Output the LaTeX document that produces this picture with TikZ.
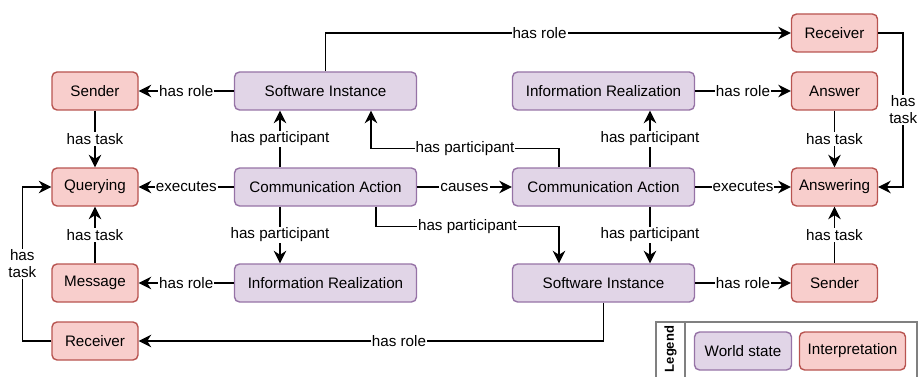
\documentclass[tikz,border=0pt]{standalone}
\usepackage{fontspec}
\setmainfont{Liberation Sans}
\usetikzlibrary{arrows.meta, positioning, calc}
\definecolor{WorldFill}{HTML}{E1D5E7}
\definecolor{WorldLine}{HTML}{9673A6}
\definecolor{InterpFill}{HTML}{F8CECC}
\definecolor{InterpLine}{HTML}{B85450}

\begin{document}
\begin{tikzpicture}[
    x=1pt, y=-1pt,
    >={Stealth[length=12.5pt, width=12.5pt, inset=4pt]},
    font=\fontsize{15.2}{17}\selectfont,
    worldKey/.style={draw=WorldLine, fill=WorldFill, rectangle, rounded corners=5pt, line width=1.4pt, minimum width=182pt, minimum height=38pt},
    interpKey/.style={draw=InterpLine, fill=InterpFill, rectangle, rounded corners=5pt, line width=1.4pt, minimum width=86pt, minimum height=38pt},
    link/.style={->, line width=1.5pt},
    edgeText/.style={fill=white, inner sep=1pt},
  ]
  \useasboundingbox (0,0) rectangle (918,377);
  % world state and interpretation nodes
  \node[interpKey] (senderL)    at (95,91)    {Sender};
  \node[worldKey]  (softwareT)  at (325.5,91) {Software Instance};
  \node[worldKey]  (infoT)      at (603.5,91) {Information Realization};
  \node[interpKey] (receiverR)  at (834.5,33) {Receiver};
  \node[interpKey] (answerR)    at (834.5,91) {Answer};
  \node[interpKey] (queryingL)  at (95,187)   {Querying};
  \node[worldKey]  (commL)      at (325.5,187) {Communication Action};
  \node[worldKey]  (commR)      at (603.5,187) {Communication Action};
  \node[interpKey] (answeringR) at (834.5,187) {Answering};
  \node[interpKey] (messageL)   at (95,283)   {Message};
  \node[worldKey]  (infoB)      at (325.5,283) {Information Realization};
  \node[worldKey]  (softwareB)  at (603.5,283) {Software Instance};
  \node[interpKey] (senderR)    at (834.5,283) {Sender};
  \node[interpKey] (receiverL)  at (95,341)   {Receiver};
  % lines
  \draw[link] (softwareT) -- node[edgeText] {has role} (senderL);
  \draw[link] (senderL) -- node[edgeText] {has task} (queryingL);
  \draw[link] (commL) -- node[edgeText] {executes} (queryingL);
  \draw[link] (messageL) -- node[edgeText] {has task} (queryingL);
  \draw[link] (infoB) -- node[edgeText] {has role} (messageL);
  \draw[link] ([xshift=-45.5pt]commL.north) -- node[edgeText] {has participant} ([xshift=-45.5pt]softwareT.south);
  \draw[link] ([xshift=-45.5pt]commL.south) -- node[edgeText] {has participant} ([xshift=-45.5pt]infoB.north);
  \draw[link] (commL) -- node[edgeText] {causes} (commR);
  \draw[link] ([xshift=46.5pt]commR.north) -- node[edgeText] {has participant} ([xshift=46.5pt]infoT.south);
  \draw[link] ([xshift=46.5pt]commR.south) -- node[edgeText] {has participant} ([xshift=46.5pt]softwareB.north);
  \draw[link] (commR) -- node[edgeText] {executes} (answeringR);
  \draw[link] (infoT) -- node[edgeText] {has role} (answerR);
  \draw[link] (answerR) -- node[edgeText] {has task} (answeringR);
  \draw[link] (senderR) -- node[edgeText] {has task} (answeringR);
  \draw[link] (softwareB) -- node[edgeText] {has role} (senderR);
  % bent lines
  \draw[link] ([xshift=-44.5pt]commR.north) -- ++(0,-19) -| node[edgeText, pos=0.25] {has participant} ([xshift=45.5pt]softwareT.south);
  \draw[link] ([xshift=50.5pt]commL.south) -- ++(0,20) -| node[edgeText, pos=0.25] {has participant} ([xshift=-44.5pt]softwareB.north);
  \draw[link] (softwareT.north) |- node[edgeText, pos=0.73] {has role} (receiverR.west);
  \draw[link] (softwareB.south) |- node[edgeText, pos=0.72] {has role} (receiverL.east);
  \draw[link] (receiverR.east) -- ++(25,0) |- node[edgeText, pos=0.25, align=center] {has\\task} (answeringR.east);
  \draw[link] (receiverL.west) -- ++(-29,0) |- node[edgeText, pos=0.25, align=center] {has\\task} (queryingL.west);
  % legend
  \draw[line width=1.2pt, draw=gray] (656,322) rectangle (917,390);
  \draw[line width=1.2pt, draw=gray] (685,322) -- (685,390);
  \node[rotate=90, font=\fontsize{13}{15}\selectfont\bfseries] (legendT) at (670.5,349) {Legend};
  \node[worldKey, minimum width=97pt]   (worldLeg)  at (743,351)   {World state};
  \node[interpKey, minimum width=106pt] (interpLeg) at (852.5,351) {Interpretation};
\end{tikzpicture}
\end{document}
